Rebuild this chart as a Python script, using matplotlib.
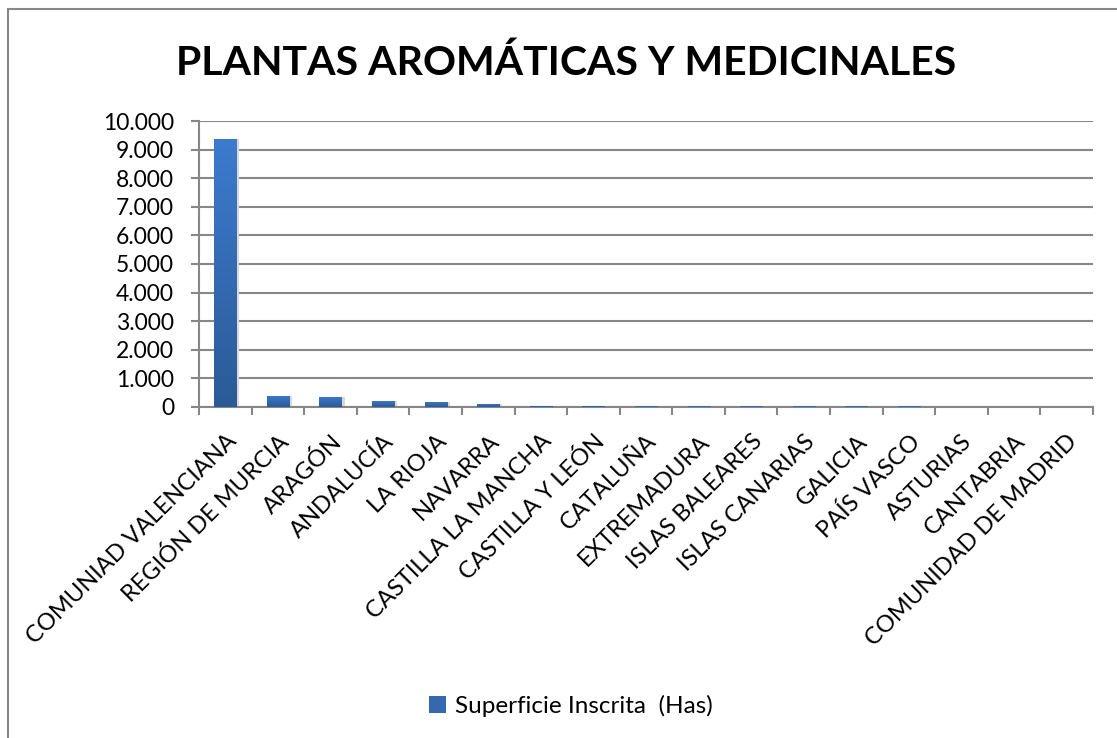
import matplotlib
matplotlib.use("Agg")
import matplotlib.pyplot as plt
from matplotlib.ticker import FuncFormatter, FixedLocator
from matplotlib.colors import LinearSegmentedColormap
from matplotlib.patches import Rectangle
import numpy as np

plt.rcParams['font.family'] = ['Lato', 'DejaVu Sans']

# Data (hectares)
regions = ['COMUNIAD VALENCIANA', 'REGIÓN DE MURCIA', 'ARAGÓN', 'ANDALUCÍA',
           'LA RIOJA', 'NAVARRA', 'CASTILLA LA MANCHA', 'CASTILLA Y LEÓN',
           'CATALUÑA', 'EXTREMADURA', 'ISLAS BALEARES', 'ISLAS CANARIAS',
           'GALICIA', 'PAÍS VASCO', 'ASTURIAS', 'CANTABRIA', 'COMUNIDAD DE MADRID']
superficie = [9380, 390, 350, 210, 175, 105, 40, 40,
              28, 26, 25, 25, 24, 24, 1, 1, 1]
series_label = 'Superficie Inscrita  (Has)'
title = 'PLANTAS AROMÁTICAS Y MEDICINALES'

grey = '#878787'

fig = plt.figure(figsize=(11.17, 7.38), dpi=100)
# outer chart frame
fig.patches.append(Rectangle((8 / 1117, -0.05), 1.2, 1 - 9 / 738 + 0.05,
                             transform=fig.transFigure, fill=False,
                             edgecolor=grey, linewidth=1.5))

ax = fig.add_axes([199 / 1117, 1 - 407 / 738, (1093 - 199) / 1117, (407 - 121) / 738])

x = np.arange(len(regions))
bars = ax.bar(x, superficie, width=0.42, color='#3469b0', zorder=3)

# vertical gradient on each bar, like the Excel style
cmap = LinearSegmentedColormap.from_list('blu', ['#2b5a96', '#3d7bcf'])
grad = np.linspace(0, 1, 256).reshape(-1, 1)
for b in bars:
    if b.get_height() <= 0:
        continue
    x0, w, h = b.get_x(), b.get_width(), b.get_height()
    # light shadow on the right
    ax.add_patch(Rectangle((x0 + w, 0), 0.06, h, color='#d9d9d9', zorder=2, lw=0))
    im = ax.imshow(grad, cmap=cmap, origin='lower', aspect='auto',
                   extent=(x0, x0 + w, 0, h), zorder=4)
    im.set_clip_path(b)

ax.set_xlim(-0.5, len(regions) - 0.5)
ax.set_ylim(0, 10000)
ax.set_yticks(np.arange(0, 10001, 1000))
ax.yaxis.set_major_formatter(FuncFormatter(lambda v, p: f'{int(v):,}'.replace(',', '.')))
ax.grid(axis='y', color=grey, linewidth=1.5, zorder=1)
ax.set_axisbelow(True)

# ticks between categories, labels at centres
ax.xaxis.set_major_locator(FixedLocator(np.arange(-0.5, len(regions), 1)))
ax.set_xticklabels([])
ax.xaxis.set_minor_locator(FixedLocator(x))
ax.set_xticklabels(regions, minor=True, rotation=45, ha='right',
                   rotation_mode='anchor', fontsize=17)
ax.tick_params(axis='x', which='minor', length=0, pad=17)
ax.tick_params(axis='x', which='major', length=6, width=1.5, color=grey)
ax.tick_params(axis='y', length=6, width=1.5, color=grey, labelsize=16.5, pad=12)

for s in ['top', 'right']:
    ax.spines[s].set_visible(False)
for s in ['left', 'bottom']:
    ax.spines[s].set_color(grey)
    ax.spines[s].set_linewidth(1.5)

fig.text(566 / 1117, 1 - 63 / 738, title, ha='center', va='center',
         fontsize=29.5, fontweight='bold')

# legend at the bottom
leg = fig.legend([bars], [series_label], loc='center', frameon=False,
                 bbox_to_anchor=(571 / 1117, 1 - 706 / 738), fontsize=17.5,
                 handlelength=0.7, handleheight=0.7, handletextpad=0.35)

fig.savefig('out.png', dpi=100)
